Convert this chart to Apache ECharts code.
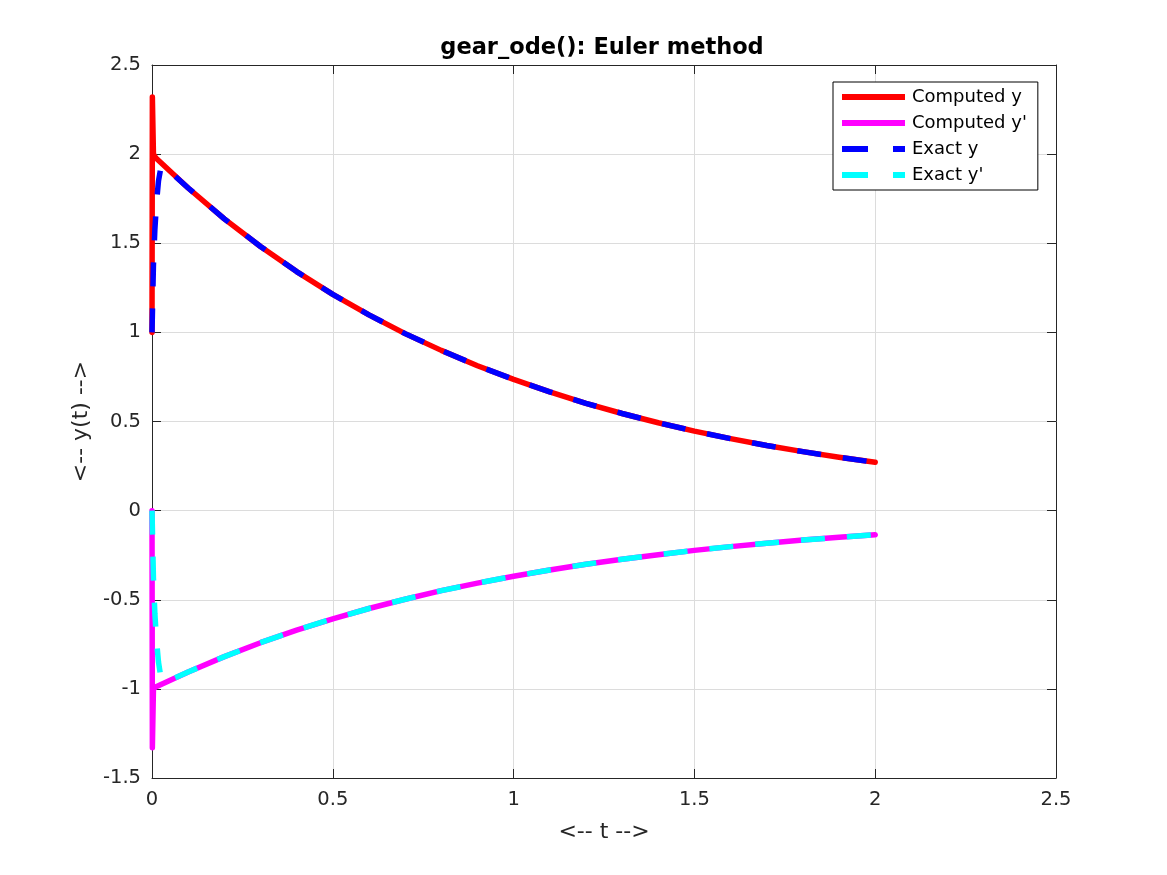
<!DOCTYPE html>
<html>
<head>
<meta charset="utf-8">
<script src="https://cdn.jsdelivr.net/npm/echarts@6/dist/echarts.min.js"></script>
<style>html,body{margin:0;padding:0;background:#fff;}#c{width:1167px;height:875px;}</style>
</head>
<body>
<div id="c"></div>
<script>
// Data
var seriesNames = ["Computed y", "Computed y'", "Exact y", "Exact y'"];
var tComputed = [0, 0.001, 0.004, 0.01, 0.1, 0.2, 0.3, 0.4, 0.5, 0.6, 0.7, 0.8, 0.9, 1.0, 1.1, 1.2, 1.3, 1.4, 1.5, 1.6, 1.7, 1.8, 1.9, 2.0];
var yComputed = [1.0, 2.32, 2.0, 1.98, 1.810, 1.637, 1.482, 1.341, 1.213, 1.098, 0.993, 0.899, 0.813, 0.736, 0.666, 0.602, 0.545, 0.493, 0.446, 0.404, 0.365, 0.331, 0.299, 0.271];
var ypComputed = [0.0, -1.33, -1.0, -0.99, -0.905, -0.819, -0.741, -0.670, -0.607, -0.549, -0.497, -0.449, -0.407, -0.368, -0.333, -0.301, -0.273, -0.247, -0.223, -0.202, -0.183, -0.165, -0.150, -0.135];
var tExact = [0, 0.004, 0.008, 0.013, 0.018, 0.025, 0.04, 0.1, 0.2, 0.3, 0.4, 0.5, 0.6, 0.7, 0.8, 0.9, 1.0, 1.1, 1.2, 1.3, 1.4, 1.5, 1.6, 1.7, 1.8, 1.9, 2.0];
var yExact = [1.0, 1.38, 1.58, 1.74, 1.85, 1.93, 1.92, 1.810, 1.637, 1.482, 1.341, 1.213, 1.098, 0.993, 0.899, 0.813, 0.736, 0.666, 0.602, 0.545, 0.493, 0.446, 0.404, 0.365, 0.331, 0.299, 0.271];
var ypExact = [0.0, -0.38, -0.58, -0.74, -0.85, -0.94, -0.96, -0.905, -0.819, -0.741, -0.670, -0.607, -0.549, -0.497, -0.449, -0.407, -0.368, -0.333, -0.301, -0.273, -0.247, -0.223, -0.202, -0.183, -0.165, -0.150, -0.135];

function pairs(t, v) { return t.map(function (x, i) { return [x, v[i]]; }); }

var textColor = '#262626';
var font = 'DejaVu Sans';
var chart = echarts.init(document.getElementById('c'), null, {renderer: 'canvas'});

function mkX(pos, show) {
  return {
    type: 'value', position: pos, min: 0, max: 2.5, interval: 0.5,
    name: show ? '<-- t -->' : '', nameLocation: 'middle', nameGap: 43,
    nameTextStyle: {fontSize: 22, color: textColor, fontFamily: font},
    axisLine: {show: true, onZero: false, lineStyle: {color: textColor, width: 1}},
    axisTick: {show: true, inside: true, length: 9, lineStyle: {color: textColor}},
    axisLabel: {show: show, fontSize: 19.5, color: textColor, fontFamily: font, margin: 12},
    splitLine: {show: show, lineStyle: {color: '#dcdcdc', width: 1}}
  };
}
function mkY(pos, show) {
  return {
    type: 'value', position: pos, min: -1.5, max: 2.5, interval: 0.5,
    name: show ? '<-- y(t) -->' : '', nameLocation: 'middle', nameGap: 60,
    nameTextStyle: {fontSize: 22, color: textColor, fontFamily: font},
    axisLine: {show: true, onZero: false, lineStyle: {color: textColor, width: 1}},
    axisTick: {show: true, inside: true, length: 9, lineStyle: {color: textColor}},
    axisLabel: {show: show, fontSize: 19.5, color: textColor, fontFamily: font, margin: 11},
    splitLine: {show: show, lineStyle: {color: '#dcdcdc', width: 1}}
  };
}

function lineSeries(name, data, color, dashed) {
  return {
    name: name, type: 'line', data: data, xAxisIndex: 0, yAxisIndex: 0,
    showSymbol: false, symbol: 'none', animation: false,
    lineStyle: {color: color, width: 5.5, type: dashed ? [24, 22] : 'solid', cap: dashed ? 'butt' : 'round', join: 'round'},
    itemStyle: {color: color}
  };
}

var solidIcon = 'rect';
var dashIcon = 'path://M0,0h26v6h-26z M51,0h12v6h-12z';

chart.setOption({
  animation: false,
  backgroundColor: '#ffffff',
  title: {
    text: 'gear_ode(): Euler method', left: 597, top: 32, textAlign: 'center',
    textStyle: {fontSize: 22.5, fontWeight: 'bold', color: '#000', fontFamily: font}
  },
  grid: {left: 152, right: 111, top: 65, bottom: 97, containLabel: false},
  legend: {
    data: [
      {name: seriesNames[0], icon: solidIcon},
      {name: seriesNames[1], icon: solidIcon},
      {name: seriesNames[2], icon: dashIcon},
      {name: seriesNames[3], icon: dashIcon}
    ],
    orient: 'vertical', left: 833, top: 82,
    itemWidth: 63, itemHeight: 6, itemGap: 8,
    padding: [6, 11, 6, 9],
    backgroundColor: '#fff', borderColor: '#000', borderWidth: 1,
    textStyle: {fontSize: 18, color: '#000', fontFamily: font, padding: [0, 0, 0, 2]}
  },
  xAxis: [mkX('bottom', true), mkX('top', false)],
  yAxis: [mkY('left', true), mkY('right', false)],
  series: [
    lineSeries(seriesNames[0], pairs(tComputed, yComputed), '#ff0000', false),
    lineSeries(seriesNames[1], pairs(tComputed, ypComputed), '#ff00ff', false),
    lineSeries(seriesNames[2], pairs(tExact, yExact), '#0000ff', true),
    lineSeries(seriesNames[3], pairs(tExact, ypExact), '#00ffff', true)
  ]
});
</script>
</body>
</html>
